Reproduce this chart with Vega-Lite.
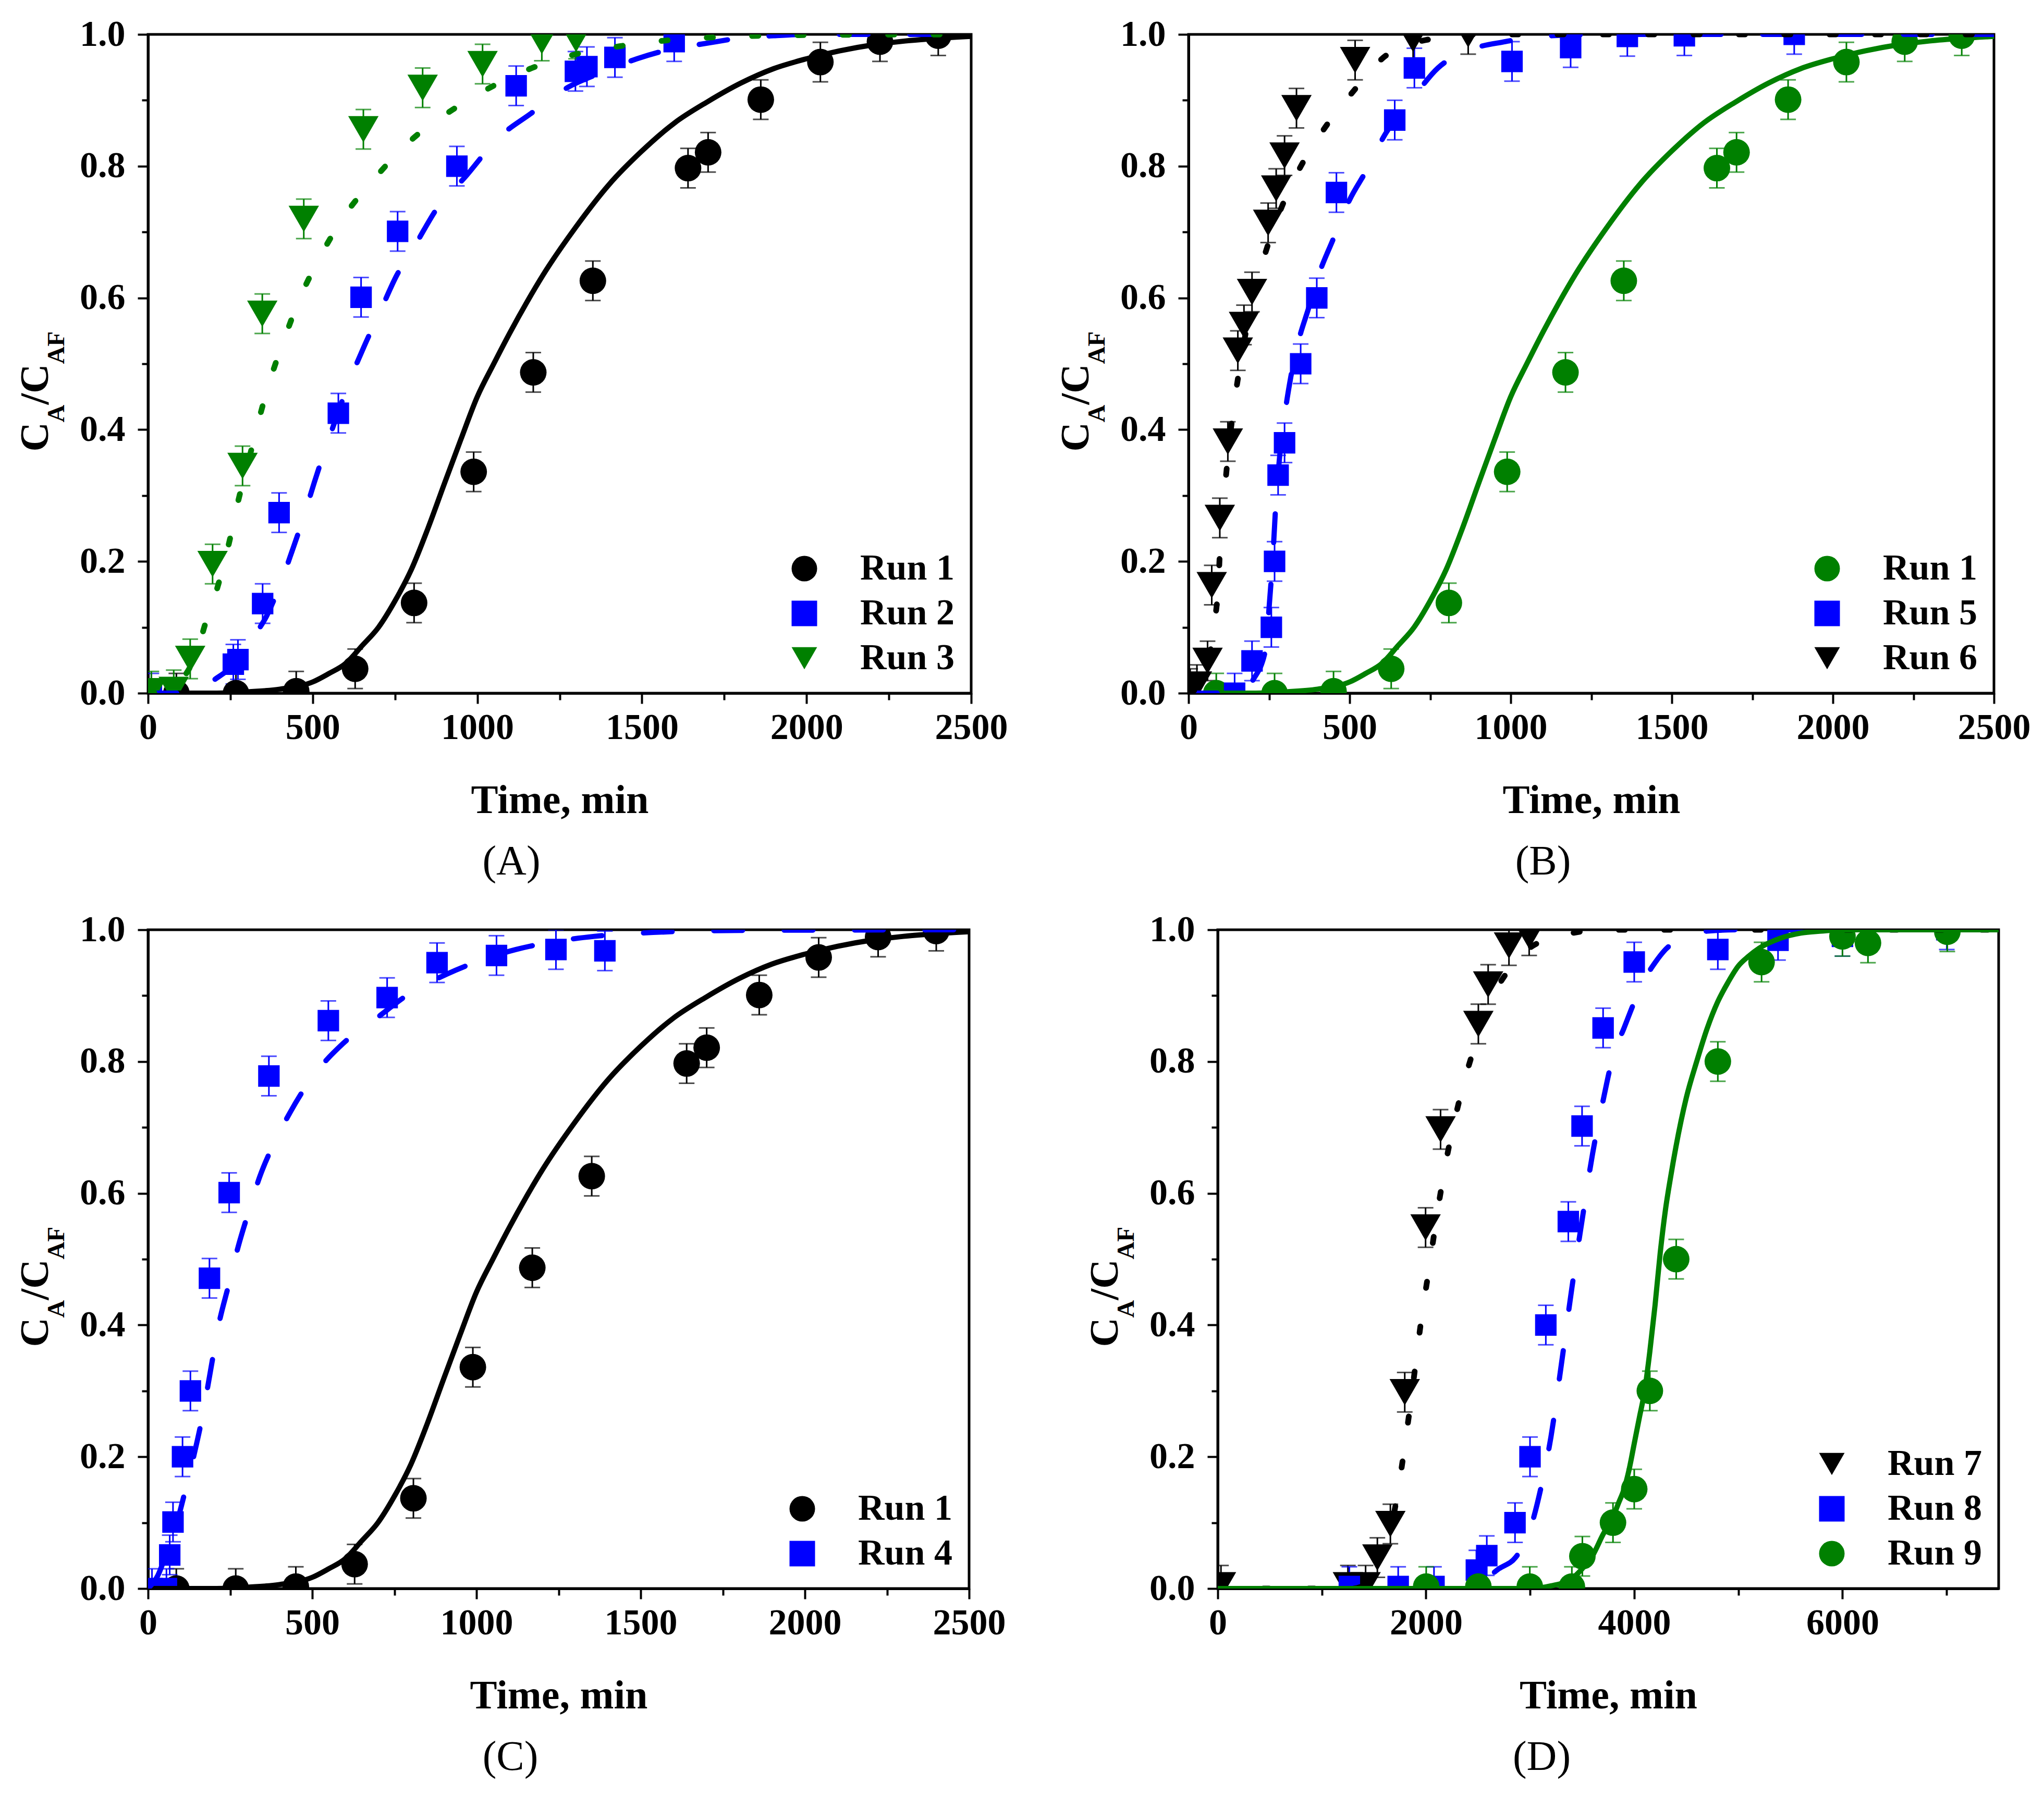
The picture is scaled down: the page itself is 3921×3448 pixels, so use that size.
{
  "$schema": "https://vega.github.io/schema/vega-lite/v6.json",
  "background": "white",
  "padding": {"left": 26, "top": 28, "right": 10, "bottom": 10},
  "config": {
    "font": "Liberation Serif",
    "view": {"stroke": "black", "strokeWidth": 5},
    "axis": {
      "grid": false,
      "labelFont": "Liberation Serif",
      "labelFontSize": 70,
      "labelFontWeight": "bold",
      "labelColor": "black",
      "labelOverlap": false,
      "labelFlush": false,
      "titleFont": "Liberation Serif",
      "titleFontWeight": "bold",
      "titleColor": "black",
      "titleFontSize": 78,
      "domainColor": "black",
      "domainWidth": 5,
      "tickColor": "black",
      "tickWidth": 4
    },
    "legend": {
      "labelFont": "Liberation Serif",
      "labelFontSize": 70,
      "labelFontWeight": "bold",
      "labelColor": "black",
      "labelLimit": 0,
      "symbolSize": 2400,
      "symbolStrokeWidth": 0,
      "labelOffset": 72,
      "rowPadding": 16,
      "padding": 0
    },
    "title": {"font": "Liberation Serif", "fontSize": 80, "fontWeight": "normal", "color": "black"}
  },
  "datasets": {
    "ptsA": [
      {"run": "Run 1", "t": 86, "y": 0.0, "e": 0.03},
      {"run": "Run 1", "t": 267, "y": 0.0, "e": 0.03},
      {"run": "Run 1", "t": 450, "y": 0.003, "e": 0.03},
      {"run": "Run 1", "t": 629, "y": 0.037, "e": 0.03},
      {"run": "Run 1", "t": 808, "y": 0.137, "e": 0.03},
      {"run": "Run 1", "t": 989, "y": 0.336, "e": 0.03},
      {"run": "Run 1", "t": 1170, "y": 0.487, "e": 0.03},
      {"run": "Run 1", "t": 1351, "y": 0.626, "e": 0.03},
      {"run": "Run 1", "t": 1640, "y": 0.797, "e": 0.03},
      {"run": "Run 1", "t": 1701, "y": 0.821, "e": 0.03},
      {"run": "Run 1", "t": 1861, "y": 0.901, "e": 0.03},
      {"run": "Run 1", "t": 2042, "y": 0.958, "e": 0.03},
      {"run": "Run 1", "t": 2223, "y": 0.989, "e": 0.03},
      {"run": "Run 1", "t": 2400, "y": 0.998, "e": 0.03},
      {"run": "Run 2", "t": 10, "y": 0.0, "e": 0.03},
      {"run": "Run 2", "t": 259, "y": 0.044, "e": 0.03},
      {"run": "Run 2", "t": 273, "y": 0.051, "e": 0.03},
      {"run": "Run 2", "t": 348, "y": 0.136, "e": 0.03},
      {"run": "Run 2", "t": 398, "y": 0.274, "e": 0.03},
      {"run": "Run 2", "t": 578, "y": 0.425, "e": 0.03},
      {"run": "Run 2", "t": 647, "y": 0.601, "e": 0.03},
      {"run": "Run 2", "t": 758, "y": 0.701, "e": 0.03},
      {"run": "Run 2", "t": 938, "y": 0.8, "e": 0.03},
      {"run": "Run 2", "t": 1118, "y": 0.922, "e": 0.03},
      {"run": "Run 2", "t": 1298, "y": 0.944, "e": 0.03},
      {"run": "Run 2", "t": 1333, "y": 0.951, "e": 0.03},
      {"run": "Run 2", "t": 1418, "y": 0.965, "e": 0.03},
      {"run": "Run 2", "t": 1598, "y": 0.989, "e": 0.03},
      {"run": "Run 3", "t": 10, "y": 0.003, "e": 0.03},
      {"run": "Run 3", "t": 78, "y": 0.005, "e": 0.03},
      {"run": "Run 3", "t": 128, "y": 0.052, "e": 0.03},
      {"run": "Run 3", "t": 196, "y": 0.196, "e": 0.03},
      {"run": "Run 3", "t": 287, "y": 0.345, "e": 0.03},
      {"run": "Run 3", "t": 347, "y": 0.576, "e": 0.03},
      {"run": "Run 3", "t": 473, "y": 0.72, "e": 0.03},
      {"run": "Run 3", "t": 654, "y": 0.856, "e": 0.03},
      {"run": "Run 3", "t": 834, "y": 0.919, "e": 0.03},
      {"run": "Run 3", "t": 1016, "y": 0.955, "e": 0.03},
      {"run": "Run 3", "t": 1196, "y": 0.99, "e": 0.03},
      {"run": "Run 3", "t": 1300, "y": 0.993, "e": 0.03}
    ],
    "ptsB": [
      {"run": "Run 1", "t": 86, "y": 0.0, "e": 0.03},
      {"run": "Run 1", "t": 267, "y": 0.0, "e": 0.03},
      {"run": "Run 1", "t": 450, "y": 0.003, "e": 0.03},
      {"run": "Run 1", "t": 629, "y": 0.037, "e": 0.03},
      {"run": "Run 1", "t": 808, "y": 0.137, "e": 0.03},
      {"run": "Run 1", "t": 989, "y": 0.336, "e": 0.03},
      {"run": "Run 1", "t": 1170, "y": 0.487, "e": 0.03},
      {"run": "Run 1", "t": 1351, "y": 0.626, "e": 0.03},
      {"run": "Run 1", "t": 1640, "y": 0.797, "e": 0.03},
      {"run": "Run 1", "t": 1701, "y": 0.821, "e": 0.03},
      {"run": "Run 1", "t": 1861, "y": 0.901, "e": 0.03},
      {"run": "Run 1", "t": 2042, "y": 0.958, "e": 0.03},
      {"run": "Run 1", "t": 2223, "y": 0.989, "e": 0.03},
      {"run": "Run 1", "t": 2400, "y": 0.998, "e": 0.03},
      {"run": "Run 5", "t": 5, "y": 0.0, "e": 0.03},
      {"run": "Run 5", "t": 143, "y": 0.0, "e": 0.03},
      {"run": "Run 5", "t": 197, "y": 0.049, "e": 0.03},
      {"run": "Run 5", "t": 257, "y": 0.1, "e": 0.03},
      {"run": "Run 5", "t": 267, "y": 0.2, "e": 0.03},
      {"run": "Run 5", "t": 278, "y": 0.331, "e": 0.03},
      {"run": "Run 5", "t": 298, "y": 0.38, "e": 0.03},
      {"run": "Run 5", "t": 348, "y": 0.5, "e": 0.03},
      {"run": "Run 5", "t": 398, "y": 0.6, "e": 0.03},
      {"run": "Run 5", "t": 459, "y": 0.76, "e": 0.03},
      {"run": "Run 5", "t": 640, "y": 0.87, "e": 0.03},
      {"run": "Run 5", "t": 701, "y": 0.949, "e": 0.03},
      {"run": "Run 5", "t": 1004, "y": 0.959, "e": 0.03},
      {"run": "Run 5", "t": 1186, "y": 0.98, "e": 0.03},
      {"run": "Run 5", "t": 1362, "y": 0.997, "e": 0.03},
      {"run": "Run 5", "t": 1539, "y": 0.998, "e": 0.03},
      {"run": "Run 5", "t": 1880, "y": 1.0, "e": 0.03},
      {"run": "Run 6", "t": 5, "y": 0.007, "e": 0.03},
      {"run": "Run 6", "t": 26, "y": 0.013, "e": 0.03},
      {"run": "Run 6", "t": 59, "y": 0.049, "e": 0.03},
      {"run": "Run 6", "t": 72, "y": 0.164, "e": 0.03},
      {"run": "Run 6", "t": 97, "y": 0.266, "e": 0.03},
      {"run": "Run 6", "t": 122, "y": 0.382, "e": 0.03},
      {"run": "Run 6", "t": 153, "y": 0.52, "e": 0.03},
      {"run": "Run 6", "t": 172, "y": 0.559, "e": 0.03},
      {"run": "Run 6", "t": 197, "y": 0.609, "e": 0.03},
      {"run": "Run 6", "t": 247, "y": 0.714, "e": 0.03},
      {"run": "Run 6", "t": 272, "y": 0.766, "e": 0.03},
      {"run": "Run 6", "t": 298, "y": 0.816, "e": 0.03},
      {"run": "Run 6", "t": 335, "y": 0.888, "e": 0.03},
      {"run": "Run 6", "t": 517, "y": 0.961, "e": 0.03},
      {"run": "Run 6", "t": 697, "y": 0.993, "e": 0.03},
      {"run": "Run 6", "t": 868, "y": 1.0, "e": 0.03}
    ],
    "ptsC": [
      {"run": "Run 1", "t": 86, "y": 0.0, "e": 0.03},
      {"run": "Run 1", "t": 267, "y": 0.0, "e": 0.03},
      {"run": "Run 1", "t": 450, "y": 0.003, "e": 0.03},
      {"run": "Run 1", "t": 629, "y": 0.037, "e": 0.03},
      {"run": "Run 1", "t": 808, "y": 0.137, "e": 0.03},
      {"run": "Run 1", "t": 989, "y": 0.336, "e": 0.03},
      {"run": "Run 1", "t": 1170, "y": 0.487, "e": 0.03},
      {"run": "Run 1", "t": 1351, "y": 0.626, "e": 0.03},
      {"run": "Run 1", "t": 1640, "y": 0.797, "e": 0.03},
      {"run": "Run 1", "t": 1701, "y": 0.821, "e": 0.03},
      {"run": "Run 1", "t": 1861, "y": 0.901, "e": 0.03},
      {"run": "Run 1", "t": 2042, "y": 0.958, "e": 0.03},
      {"run": "Run 1", "t": 2223, "y": 0.989, "e": 0.03},
      {"run": "Run 1", "t": 2400, "y": 0.998, "e": 0.03},
      {"run": "Run 4", "t": 12, "y": 0.0, "e": 0.03},
      {"run": "Run 4", "t": 56, "y": 0.0, "e": 0.03},
      {"run": "Run 4", "t": 66, "y": 0.051, "e": 0.03},
      {"run": "Run 4", "t": 76, "y": 0.101, "e": 0.03},
      {"run": "Run 4", "t": 105, "y": 0.2, "e": 0.03},
      {"run": "Run 4", "t": 129, "y": 0.3, "e": 0.03},
      {"run": "Run 4", "t": 187, "y": 0.471, "e": 0.03},
      {"run": "Run 4", "t": 247, "y": 0.601, "e": 0.03},
      {"run": "Run 4", "t": 368, "y": 0.778, "e": 0.03},
      {"run": "Run 4", "t": 549, "y": 0.862, "e": 0.03},
      {"run": "Run 4", "t": 728, "y": 0.897, "e": 0.03},
      {"run": "Run 4", "t": 880, "y": 0.95, "e": 0.03},
      {"run": "Run 4", "t": 1061, "y": 0.961, "e": 0.03},
      {"run": "Run 4", "t": 1242, "y": 0.97, "e": 0.03},
      {"run": "Run 4", "t": 1391, "y": 0.968, "e": 0.03}
    ],
    "ptsD": [
      {"run": "Run 7", "t": 31, "y": 0.005, "e": 0.03},
      {"run": "Run 7", "t": 1250, "y": 0.005, "e": 0.03},
      {"run": "Run 7", "t": 1420, "y": 0.005, "e": 0.03},
      {"run": "Run 7", "t": 1533, "y": 0.047, "e": 0.03},
      {"run": "Run 7", "t": 1658, "y": 0.098, "e": 0.03},
      {"run": "Run 7", "t": 1796, "y": 0.298, "e": 0.03},
      {"run": "Run 7", "t": 1996, "y": 0.548, "e": 0.03},
      {"run": "Run 7", "t": 2140, "y": 0.697, "e": 0.03},
      {"run": "Run 7", "t": 2503, "y": 0.857, "e": 0.03},
      {"run": "Run 7", "t": 2597, "y": 0.917, "e": 0.03},
      {"run": "Run 7", "t": 2797, "y": 0.976, "e": 0.03},
      {"run": "Run 7", "t": 2991, "y": 0.991, "e": 0.03},
      {"run": "Run 8", "t": 1264, "y": 0.003, "e": 0.03},
      {"run": "Run 8", "t": 1733, "y": 0.003, "e": 0.03},
      {"run": "Run 8", "t": 2077, "y": 0.003, "e": 0.03},
      {"run": "Run 8", "t": 2484, "y": 0.028, "e": 0.03},
      {"run": "Run 8", "t": 2584, "y": 0.05, "e": 0.03},
      {"run": "Run 8", "t": 2855, "y": 0.1, "e": 0.03},
      {"run": "Run 8", "t": 2999, "y": 0.2, "e": 0.03},
      {"run": "Run 8", "t": 3151, "y": 0.4, "e": 0.03},
      {"run": "Run 8", "t": 3367, "y": 0.557, "e": 0.03},
      {"run": "Run 8", "t": 3499, "y": 0.702, "e": 0.03},
      {"run": "Run 8", "t": 3701, "y": 0.851, "e": 0.03},
      {"run": "Run 8", "t": 4000, "y": 0.951, "e": 0.03},
      {"run": "Run 8", "t": 4803, "y": 0.97, "e": 0.03},
      {"run": "Run 8", "t": 5381, "y": 0.984, "e": 0.03},
      {"run": "Run 8", "t": 6000, "y": 0.99, "e": 0.03},
      {"run": "Run 8", "t": 7002, "y": 1.0, "e": 0.03},
      {"run": "Run 9", "t": 2002, "y": 0.003, "e": 0.03},
      {"run": "Run 9", "t": 2503, "y": 0.003, "e": 0.03},
      {"run": "Run 9", "t": 2997, "y": 0.003, "e": 0.03},
      {"run": "Run 9", "t": 3401, "y": 0.003, "e": 0.03},
      {"run": "Run 9", "t": 3502, "y": 0.049, "e": 0.03},
      {"run": "Run 9", "t": 3796, "y": 0.1, "e": 0.03},
      {"run": "Run 9", "t": 4000, "y": 0.151, "e": 0.03},
      {"run": "Run 9", "t": 4150, "y": 0.3, "e": 0.03},
      {"run": "Run 9", "t": 4403, "y": 0.5, "e": 0.03},
      {"run": "Run 9", "t": 4803, "y": 0.8, "e": 0.03},
      {"run": "Run 9", "t": 5223, "y": 0.951, "e": 0.03},
      {"run": "Run 9", "t": 6000, "y": 0.99, "e": 0.03},
      {"run": "Run 9", "t": 6245, "y": 0.98, "e": 0.03},
      {"run": "Run 9", "t": 7007, "y": 0.997, "e": 0.03}
    ],
    "c1": [
      {"t": 0, "y": 0}, {"t": 200, "y": 0}, {"t": 300, "y": 0.002}, {"t": 400, "y": 0.006},
      {"t": 500, "y": 0.017}, {"t": 550, "y": 0.03}, {"t": 600, "y": 0.045}, {"t": 650, "y": 0.072},
      {"t": 700, "y": 0.1}, {"t": 750, "y": 0.14}, {"t": 800, "y": 0.188}, {"t": 850, "y": 0.25},
      {"t": 900, "y": 0.318}, {"t": 950, "y": 0.385}, {"t": 1000, "y": 0.45}, {"t": 1050, "y": 0.5},
      {"t": 1100, "y": 0.548}, {"t": 1150, "y": 0.593}, {"t": 1200, "y": 0.635}, {"t": 1300, "y": 0.708},
      {"t": 1400, "y": 0.772}, {"t": 1500, "y": 0.823}, {"t": 1600, "y": 0.866}, {"t": 1700, "y": 0.898},
      {"t": 1800, "y": 0.926}, {"t": 1900, "y": 0.948}, {"t": 2000, "y": 0.963}, {"t": 2100, "y": 0.975},
      {"t": 2200, "y": 0.984}, {"t": 2300, "y": 0.99}, {"t": 2400, "y": 0.994}, {"t": 2500, "y": 0.997}
    ],
    "c2": [
      {"t": 0, "y": 0}, {"t": 100, "y": 0}, {"t": 150, "y": 0.005}, {"t": 200, "y": 0.02},
      {"t": 282, "y": 0.055}, {"t": 320, "y": 0.085}, {"t": 360, "y": 0.117}, {"t": 405, "y": 0.17},
      {"t": 437, "y": 0.215}, {"t": 473, "y": 0.268}, {"t": 505, "y": 0.32}, {"t": 538, "y": 0.37},
      {"t": 573, "y": 0.42}, {"t": 609, "y": 0.47}, {"t": 655, "y": 0.525}, {"t": 702, "y": 0.576},
      {"t": 755, "y": 0.634}, {"t": 811, "y": 0.68}, {"t": 882, "y": 0.739}, {"t": 964, "y": 0.784},
      {"t": 1064, "y": 0.843}, {"t": 1163, "y": 0.88}, {"t": 1273, "y": 0.919}, {"t": 1377, "y": 0.942},
      {"t": 1485, "y": 0.963}, {"t": 1575, "y": 0.976}, {"t": 1703, "y": 0.987}, {"t": 1792, "y": 0.994},
      {"t": 1900, "y": 0.998}, {"t": 2000, "y": 1.0}, {"t": 2500, "y": 1.0}
    ],
    "c3": [
      {"t": 0, "y": 0}, {"t": 50, "y": 0.003}, {"t": 90, "y": 0.015}, {"t": 127, "y": 0.039},
      {"t": 150, "y": 0.065}, {"t": 173, "y": 0.104}, {"t": 214, "y": 0.166}, {"t": 246, "y": 0.228},
      {"t": 273, "y": 0.29}, {"t": 305, "y": 0.352}, {"t": 335, "y": 0.412}, {"t": 370, "y": 0.474},
      {"t": 412, "y": 0.535}, {"t": 459, "y": 0.597}, {"t": 519, "y": 0.659}, {"t": 593, "y": 0.722},
      {"t": 689, "y": 0.782}, {"t": 807, "y": 0.843}, {"t": 932, "y": 0.888}, {"t": 1057, "y": 0.924},
      {"t": 1182, "y": 0.952}, {"t": 1300, "y": 0.97}, {"t": 1432, "y": 0.982}, {"t": 1600, "y": 0.992},
      {"t": 1800, "y": 0.997}, {"t": 2000, "y": 0.999}, {"t": 2500, "y": 1.0}
    ],
    "c4": [
      {"t": 0, "y": 0}, {"t": 30, "y": 0.02}, {"t": 60, "y": 0.06}, {"t": 86, "y": 0.097},
      {"t": 115, "y": 0.152}, {"t": 141, "y": 0.205}, {"t": 165, "y": 0.26}, {"t": 190, "y": 0.33},
      {"t": 215, "y": 0.4}, {"t": 245, "y": 0.46}, {"t": 275, "y": 0.52}, {"t": 305, "y": 0.57},
      {"t": 340, "y": 0.625}, {"t": 380, "y": 0.672}, {"t": 434, "y": 0.724}, {"t": 497, "y": 0.774},
      {"t": 593, "y": 0.827}, {"t": 696, "y": 0.866}, {"t": 802, "y": 0.905}, {"t": 911, "y": 0.933},
      {"t": 1021, "y": 0.955}, {"t": 1120, "y": 0.97}, {"t": 1250, "y": 0.983}, {"t": 1359, "y": 0.99},
      {"t": 1538, "y": 0.996}, {"t": 1800, "y": 0.999}, {"t": 2500, "y": 1.0}
    ],
    "c5": [
      {"t": 0, "y": 0}, {"t": 150, "y": 0}, {"t": 180, "y": 0.005}, {"t": 200, "y": 0.02},
      {"t": 239, "y": 0.066}, {"t": 250, "y": 0.13}, {"t": 264, "y": 0.227}, {"t": 270, "y": 0.28},
      {"t": 281, "y": 0.35}, {"t": 302, "y": 0.434}, {"t": 317, "y": 0.479}, {"t": 339, "y": 0.53},
      {"t": 373, "y": 0.585}, {"t": 404, "y": 0.635}, {"t": 448, "y": 0.688}, {"t": 498, "y": 0.747},
      {"t": 554, "y": 0.795}, {"t": 611, "y": 0.849}, {"t": 681, "y": 0.893}, {"t": 774, "y": 0.949},
      {"t": 876, "y": 0.977}, {"t": 983, "y": 0.989}, {"t": 1092, "y": 0.997}, {"t": 1300, "y": 1.0},
      {"t": 2500, "y": 1.0}
    ],
    "c6": [
      {"t": 0, "y": 0}, {"t": 30, "y": 0.01}, {"t": 50, "y": 0.03}, {"t": 70, "y": 0.07},
      {"t": 82, "y": 0.11}, {"t": 93, "y": 0.17}, {"t": 99, "y": 0.234}, {"t": 110, "y": 0.296},
      {"t": 122, "y": 0.359}, {"t": 136, "y": 0.419}, {"t": 154, "y": 0.48}, {"t": 176, "y": 0.543},
      {"t": 200, "y": 0.602}, {"t": 237, "y": 0.666}, {"t": 281, "y": 0.728}, {"t": 337, "y": 0.789},
      {"t": 413, "y": 0.851}, {"t": 507, "y": 0.911}, {"t": 613, "y": 0.968}, {"t": 700, "y": 0.987},
      {"t": 800, "y": 0.996}, {"t": 900, "y": 1.0}, {"t": 2500, "y": 1.0}
    ],
    "c7": [
      {"t": 0, "y": 0}, {"t": 1300, "y": 0}, {"t": 1400, "y": 0.005}, {"t": 1500, "y": 0.025},
      {"t": 1600, "y": 0.06}, {"t": 1700, "y": 0.12}, {"t": 1752, "y": 0.169}, {"t": 1808, "y": 0.23},
      {"t": 1908, "y": 0.35}, {"t": 1958, "y": 0.412}, {"t": 2015, "y": 0.471}, {"t": 2134, "y": 0.595},
      {"t": 2202, "y": 0.656}, {"t": 2284, "y": 0.717}, {"t": 2384, "y": 0.779}, {"t": 2515, "y": 0.845},
      {"t": 2653, "y": 0.902}, {"t": 2800, "y": 0.94}, {"t": 2922, "y": 0.963}, {"t": 3100, "y": 0.982},
      {"t": 3316, "y": 0.992}, {"t": 3700, "y": 1.0}, {"t": 7500, "y": 1.0}
    ],
    "c8": [
      {"t": 0, "y": 0}, {"t": 2400, "y": 0}, {"t": 2484, "y": 0.006}, {"t": 2600, "y": 0.018},
      {"t": 2700, "y": 0.03}, {"t": 2859, "y": 0.047}, {"t": 2950, "y": 0.07}, {"t": 3000, "y": 0.09},
      {"t": 3100, "y": 0.15}, {"t": 3200, "y": 0.23}, {"t": 3300, "y": 0.34}, {"t": 3400, "y": 0.455},
      {"t": 3500, "y": 0.56}, {"t": 3600, "y": 0.66}, {"t": 3700, "y": 0.74}, {"t": 3800, "y": 0.81},
      {"t": 3900, "y": 0.85}, {"t": 4000, "y": 0.89}, {"t": 4100, "y": 0.925}, {"t": 4200, "y": 0.95},
      {"t": 4300, "y": 0.97}, {"t": 4500, "y": 0.99}, {"t": 4700, "y": 0.998}, {"t": 5000, "y": 1.0},
      {"t": 7500, "y": 1.0}
    ],
    "c9": [
      {"t": 0, "y": 0}, {"t": 3000, "y": 0}, {"t": 3200, "y": 0.004}, {"t": 3400, "y": 0.015},
      {"t": 3500, "y": 0.03}, {"t": 3600, "y": 0.05}, {"t": 3700, "y": 0.082}, {"t": 3800, "y": 0.11},
      {"t": 3850, "y": 0.13}, {"t": 3900, "y": 0.15}, {"t": 3950, "y": 0.18}, {"t": 4000, "y": 0.22},
      {"t": 4050, "y": 0.26}, {"t": 4100, "y": 0.3}, {"t": 4150, "y": 0.36}, {"t": 4200, "y": 0.43},
      {"t": 4250, "y": 0.51}, {"t": 4300, "y": 0.575}, {"t": 4350, "y": 0.625}, {"t": 4400, "y": 0.67},
      {"t": 4450, "y": 0.71}, {"t": 4500, "y": 0.745}, {"t": 4600, "y": 0.8}, {"t": 4700, "y": 0.85},
      {"t": 4800, "y": 0.89}, {"t": 4900, "y": 0.92}, {"t": 5000, "y": 0.945}, {"t": 5100, "y": 0.96},
      {"t": 5200, "y": 0.972}, {"t": 5400, "y": 0.987}, {"t": 5600, "y": 0.995}, {"t": 5800, "y": 0.998},
      {"t": 6000, "y": 1.0}, {"t": 7500, "y": 1.0}
    ]
  },
  "resolve": {
    "scale": {"color": "independent", "shape": "independent", "x": "independent", "y": "independent"},
    "legend": {"color": "independent", "shape": "independent"}
  },
  "spacing": 49,
  "vconcat": [
    {
      "spacing": 86,
      "resolve": {
        "scale": {"color": "independent", "shape": "independent", "x": "independent", "y": "independent"},
        "legend": {"color": "independent", "shape": "independent"}
      },
      "hconcat": [
        {
          "width": 1579,
          "height": 1264,
          "title": {"text": "(A)", "orient": "bottom", "anchor": "middle", "frame": "bounds", "offset": 40},
          "encoding": {
            "x": {"field": "t", "type": "quantitative", "scale": {"domain": [0, 2500], "nice": false, "zero": false},
              "axis": {"values": [0, 250, 500, 750, 1000, 1250, 1500, 1750, 2000, 2250, 2500],
                "labelExpr": "datum.value % 500 == 0 ? '' + datum.value : ''",
                "tickSize": {"condition": {"test": "datum.value % 500 == 0", "value": 20}, "value": 13},
                "labelPadding": 12, "title": "Time, min", "titleY": 229, "titleBaseline": "alphabetic"}}
          },
          "resolve": {"axis": {"y": "independent"}},
          "layer": [
            {"data": {"name": "ptsA"}, "transform": [{"filter": "datum.run == 'Run 1'"}],
              "mark": {"type": "errorbar", "color": "#000000", "thickness": 3, "ticks": {"size": 30, "thickness": 3}, "clip": true},
              "encoding": {"y": {"field": "y", "type": "quantitative", "scale": {"domain": [0, 1], "nice": false},
                "axis": {"orient": "left", "labels": false, "ticks": false, "domain": false, "title": "A", "titleX": -162, "titleY": 744, "titleAngle": 270, "titleAlign": "left", "titleBaseline": "alphabetic", "titleFontSize": 47}},
                "yError": {"field": "e"}}},
            {"data": {"name": "ptsA"}, "transform": [{"filter": "datum.run == 'Run 2'"}],
              "mark": {"type": "errorbar", "color": "#0000ff", "thickness": 3, "ticks": {"size": 30, "thickness": 3}, "clip": true},
              "encoding": {"y": {"field": "y", "type": "quantitative", "scale": {"domain": [0, 1], "nice": false},
                "axis": {"orient": "left", "labels": false, "ticks": false, "domain": false, "title": "/C", "titleX": -193, "titleY": 710, "titleAngle": 270, "titleAlign": "left", "titleBaseline": "alphabetic", "titleFontSize": 78}},
                "yError": {"field": "e"}}},
            {"data": {"name": "ptsA"}, "transform": [{"filter": "datum.run == 'Run 3'"}],
              "mark": {"type": "errorbar", "color": "#008000", "thickness": 3, "ticks": {"size": 30, "thickness": 3}, "clip": true},
              "encoding": {"y": {"field": "y", "type": "quantitative", "scale": {"domain": [0, 1], "nice": false},
                "axis": {"orient": "left", "labels": false, "ticks": false, "domain": false, "title": "AF", "titleX": -162, "titleY": 632, "titleAngle": 270, "titleAlign": "left", "titleBaseline": "alphabetic", "titleFontSize": 47}},
                "yError": {"field": "e"}}},
            {"data": {"name": "ptsA"},
              "mark": {"type": "point", "filled": true, "opacity": 1, "strokeWidth": 0, "clip": true},
              "encoding": {
                "y": {"field": "y", "type": "quantitative", "scale": {"domain": [0, 1], "nice": false},
                  "axis": {"orient": "left", "values": [0, 0.1, 0.2, 0.3, 0.4, 0.5, 0.6, 0.7, 0.8, 0.9, 1],
                    "labelExpr": "round(datum.value * 10) % 2 == 0 ? format(datum.value, '.1f') : ''",
                    "tickSize": {"condition": {"test": "round(datum.value * 10) % 2 == 0", "value": 20}, "value": 12},
                    "labelPadding": 24, "title": "C", "titleX": -193, "titleY": 800, "titleAngle": 270, "titleAlign": "left", "titleBaseline": "alphabetic"}},
                "color": {"field": "run", "type": "nominal", "scale": {"domain": ["Run 1", "Run 2", "Run 3"], "range": ["#000000", "#0000ff", "#008000"]},
                  "legend": {"title": null, "orient": "bottom-right", "offset": 32}},
                "shape": {"field": "run", "type": "nominal", "scale": {"domain": ["Run 1", "Run 2", "Run 3"], "range": ["circle", "square", "triangle-down"]},
                  "legend": {"title": null, "orient": "bottom-right", "offset": 32}},
                "size": {"condition": [{"test": "datum.run == 'Run 1'", "value": 2600}, {"test": "datum.run == 'Run 2'", "value": 1700}], "value": 3400}
              }},
            {"data": {"name": "c1"}, "mark": {"type": "line", "color": "#000000", "strokeWidth": 10, "interpolate": "monotone", "clip": true},
              "encoding": {"y": {"field": "y", "type": "quantitative", "scale": {"domain": [0, 1], "nice": false}, "axis": null}}},
            {"data": {"name": "c2"}, "mark": {"type": "line", "color": "#0000ff", "strokeWidth": 10, "strokeDash": [55, 80], "strokeCap": "round", "interpolate": "monotone", "clip": true},
              "encoding": {"y": {"field": "y", "type": "quantitative", "scale": {"domain": [0, 1], "nice": false}, "axis": null}}},
            {"data": {"name": "c3"}, "mark": {"type": "line", "color": "#008000", "strokeWidth": 11, "strokeDash": [12, 75], "strokeCap": "round", "interpolate": "monotone", "clip": true},
              "encoding": {"y": {"field": "y", "type": "quantitative", "scale": {"domain": [0, 1], "nice": false}, "axis": null}}}
          ]
        },
        {
          "width": 1545,
          "height": 1264,
          "title": {"text": "(B)", "orient": "bottom", "anchor": "middle", "frame": "bounds", "offset": 40},
          "encoding": {
            "x": {"field": "t", "type": "quantitative", "scale": {"domain": [0, 2500], "nice": false, "zero": false},
              "axis": {"values": [0, 250, 500, 750, 1000, 1250, 1500, 1750, 2000, 2250, 2500],
                "labelExpr": "datum.value % 500 == 0 ? '' + datum.value : ''",
                "tickSize": {"condition": {"test": "datum.value % 500 == 0", "value": 20}, "value": 13},
                "labelPadding": 12, "title": "Time, min", "titleY": 229, "titleBaseline": "alphabetic"}}
          },
          "resolve": {"axis": {"y": "independent"}},
          "layer": [
            {"data": {"name": "ptsB"}, "transform": [{"filter": "datum.run == 'Run 1'"}],
              "mark": {"type": "errorbar", "color": "#008000", "thickness": 3, "ticks": {"size": 30, "thickness": 3}, "clip": true},
              "encoding": {"y": {"field": "y", "type": "quantitative", "scale": {"domain": [0, 1], "nice": false},
                "axis": {"orient": "left", "labels": false, "ticks": false, "domain": false, "title": "A", "titleX": -162, "titleY": 744, "titleAngle": 270, "titleAlign": "left", "titleBaseline": "alphabetic", "titleFontSize": 47}},
                "yError": {"field": "e"}}},
            {"data": {"name": "ptsB"}, "transform": [{"filter": "datum.run == 'Run 5'"}],
              "mark": {"type": "errorbar", "color": "#0000ff", "thickness": 3, "ticks": {"size": 30, "thickness": 3}, "clip": true},
              "encoding": {"y": {"field": "y", "type": "quantitative", "scale": {"domain": [0, 1], "nice": false},
                "axis": {"orient": "left", "labels": false, "ticks": false, "domain": false, "title": "/C", "titleX": -193, "titleY": 710, "titleAngle": 270, "titleAlign": "left", "titleBaseline": "alphabetic", "titleFontSize": 78}},
                "yError": {"field": "e"}}},
            {"data": {"name": "ptsB"}, "transform": [{"filter": "datum.run == 'Run 6'"}],
              "mark": {"type": "errorbar", "color": "#000000", "thickness": 3, "ticks": {"size": 30, "thickness": 3}, "clip": true},
              "encoding": {"y": {"field": "y", "type": "quantitative", "scale": {"domain": [0, 1], "nice": false},
                "axis": {"orient": "left", "labels": false, "ticks": false, "domain": false, "title": "AF", "titleX": -162, "titleY": 632, "titleAngle": 270, "titleAlign": "left", "titleBaseline": "alphabetic", "titleFontSize": 47}},
                "yError": {"field": "e"}}},
            {"data": {"name": "ptsB"},
              "mark": {"type": "point", "filled": true, "opacity": 1, "strokeWidth": 0, "clip": true},
              "encoding": {
                "y": {"field": "y", "type": "quantitative", "scale": {"domain": [0, 1], "nice": false},
                  "axis": {"orient": "left", "values": [0, 0.1, 0.2, 0.3, 0.4, 0.5, 0.6, 0.7, 0.8, 0.9, 1],
                    "labelExpr": "round(datum.value * 10) % 2 == 0 ? format(datum.value, '.1f') : ''",
                    "tickSize": {"condition": {"test": "round(datum.value * 10) % 2 == 0", "value": 20}, "value": 12},
                    "labelPadding": 24, "title": "C", "titleX": -193, "titleY": 800, "titleAngle": 270, "titleAlign": "left", "titleBaseline": "alphabetic"}},
                "color": {"field": "run", "type": "nominal", "scale": {"domain": ["Run 1", "Run 5", "Run 6"], "range": ["#008000", "#0000ff", "#000000"]},
                  "legend": {"title": null, "orient": "bottom-right", "offset": 32}},
                "shape": {"field": "run", "type": "nominal", "scale": {"domain": ["Run 1", "Run 5", "Run 6"], "range": ["circle", "square", "triangle-down"]},
                  "legend": {"title": null, "orient": "bottom-right", "offset": 32}},
                "size": {"condition": [{"test": "datum.run == 'Run 1'", "value": 2600}, {"test": "datum.run == 'Run 5'", "value": 1700}], "value": 3400}
              }},
            {"data": {"name": "c1"}, "mark": {"type": "line", "color": "#008000", "strokeWidth": 10, "interpolate": "monotone", "clip": true},
              "encoding": {"y": {"field": "y", "type": "quantitative", "scale": {"domain": [0, 1], "nice": false}, "axis": null}}},
            {"data": {"name": "c5"}, "mark": {"type": "line", "color": "#0000ff", "strokeWidth": 10, "strokeDash": [55, 80], "strokeCap": "round", "interpolate": "monotone", "clip": true},
              "encoding": {"y": {"field": "y", "type": "quantitative", "scale": {"domain": [0, 1], "nice": false}, "axis": null}}},
            {"data": {"name": "c6"}, "mark": {"type": "line", "color": "#000000", "strokeWidth": 11, "strokeDash": [12, 75], "strokeCap": "round", "interpolate": "monotone", "clip": true},
              "encoding": {"y": {"field": "y", "type": "quantitative", "scale": {"domain": [0, 1], "nice": false}, "axis": null}}}
          ]
        }
      ]
    },
    {
      "spacing": 146,
      "resolve": {
        "scale": {"color": "independent", "shape": "independent", "x": "independent", "y": "independent"},
        "legend": {"color": "independent", "shape": "independent"}
      },
      "hconcat": [
        {
          "width": 1575,
          "height": 1264,
          "title": {"text": "(C)", "orient": "bottom", "anchor": "middle", "frame": "bounds", "offset": 40},
          "encoding": {
            "x": {"field": "t", "type": "quantitative", "scale": {"domain": [0, 2500], "nice": false, "zero": false},
              "axis": {"values": [0, 250, 500, 750, 1000, 1250, 1500, 1750, 2000, 2250, 2500],
                "labelExpr": "datum.value % 500 == 0 ? '' + datum.value : ''",
                "tickSize": {"condition": {"test": "datum.value % 500 == 0", "value": 20}, "value": 13},
                "labelPadding": 12, "title": "Time, min", "titleY": 229, "titleBaseline": "alphabetic"}}
          },
          "resolve": {"axis": {"y": "independent"}},
          "layer": [
            {"data": {"name": "ptsC"}, "transform": [{"filter": "datum.run == 'Run 1'"}],
              "mark": {"type": "errorbar", "color": "#000000", "thickness": 3, "ticks": {"size": 30, "thickness": 3}, "clip": true},
              "encoding": {"y": {"field": "y", "type": "quantitative", "scale": {"domain": [0, 1], "nice": false},
                "axis": {"orient": "left", "labels": false, "ticks": false, "domain": false, "title": "A", "titleX": -162, "titleY": 744, "titleAngle": 270, "titleAlign": "left", "titleBaseline": "alphabetic", "titleFontSize": 47}},
                "yError": {"field": "e"}}},
            {"data": {"name": "ptsC"}, "transform": [{"filter": "datum.run == 'Run 4'"}],
              "mark": {"type": "errorbar", "color": "#0000ff", "thickness": 3, "ticks": {"size": 30, "thickness": 3}, "clip": true},
              "encoding": {"y": {"field": "y", "type": "quantitative", "scale": {"domain": [0, 1], "nice": false},
                "axis": {"orient": "left", "labels": false, "ticks": false, "domain": false, "title": "/C", "titleX": -193, "titleY": 710, "titleAngle": 270, "titleAlign": "left", "titleBaseline": "alphabetic", "titleFontSize": 78}},
                "yError": {"field": "e"}}},
            {"data": {"name": "ptsC"},
              "mark": {"type": "point", "filled": true, "opacity": 1, "strokeWidth": 0, "clip": true},
              "encoding": {
                "y": {"field": "y", "type": "quantitative", "scale": {"domain": [0, 1], "nice": false},
                  "axis": {"orient": "left", "values": [0, 0.1, 0.2, 0.3, 0.4, 0.5, 0.6, 0.7, 0.8, 0.9, 1],
                    "labelExpr": "round(datum.value * 10) % 2 == 0 ? format(datum.value, '.1f') : ''",
                    "tickSize": {"condition": {"test": "round(datum.value * 10) % 2 == 0", "value": 20}, "value": 12},
                    "labelPadding": 24, "title": "C", "titleX": -193, "titleY": 800, "titleAngle": 270, "titleAlign": "left", "titleBaseline": "alphabetic"}},
                "color": {"field": "run", "type": "nominal", "scale": {"domain": ["Run 1", "Run 4"], "range": ["#000000", "#0000ff"]},
                  "legend": {"title": null, "orient": "bottom-right", "offset": 32}},
                "shape": {"field": "run", "type": "nominal", "scale": {"domain": ["Run 1", "Run 4"], "range": ["circle", "square"]},
                  "legend": {"title": null, "orient": "bottom-right", "offset": 32}},
                "size": {"condition": [{"test": "datum.run == 'Run 1'", "value": 2600}], "value": 1700}
              }},
            {"data": {"name": "c1"}, "mark": {"type": "line", "color": "#000000", "strokeWidth": 10, "interpolate": "monotone", "clip": true},
              "encoding": {"y": {"field": "y", "type": "quantitative", "scale": {"domain": [0, 1], "nice": false},
                "axis": {"orient": "left", "labels": false, "ticks": false, "domain": false, "title": "AF", "titleX": -162, "titleY": 632, "titleAngle": 270, "titleAlign": "left", "titleBaseline": "alphabetic", "titleFontSize": 47}}}},
            {"data": {"name": "c4"}, "mark": {"type": "line", "color": "#0000ff", "strokeWidth": 10, "strokeDash": [55, 80], "strokeCap": "round", "interpolate": "monotone", "clip": true},
              "encoding": {"y": {"field": "y", "type": "quantitative", "scale": {"domain": [0, 1], "nice": false}, "axis": null}}}
          ]
        },
        {
          "width": 1498,
          "height": 1264,
          "title": {"text": "(D)", "orient": "bottom", "anchor": "middle", "frame": "bounds", "offset": 40},
          "encoding": {
            "x": {"field": "t", "type": "quantitative", "scale": {"domain": [0, 7500], "nice": false, "zero": false},
              "axis": {"values": [0, 1000, 2000, 3000, 4000, 5000, 6000, 7000],
                "labelExpr": "datum.value % 2000 == 0 ? '' + datum.value : ''",
                "tickSize": {"condition": {"test": "datum.value % 2000 == 0", "value": 20}, "value": 13},
                "labelPadding": 12, "title": "Time, min", "titleY": 229, "titleBaseline": "alphabetic"}}
          },
          "resolve": {"axis": {"y": "independent"}},
          "layer": [
            {"data": {"name": "ptsD"}, "transform": [{"filter": "datum.run == 'Run 7'"}],
              "mark": {"type": "errorbar", "color": "#000000", "thickness": 3, "ticks": {"size": 30, "thickness": 3}, "clip": true},
              "encoding": {"y": {"field": "y", "type": "quantitative", "scale": {"domain": [0, 1], "nice": false},
                "axis": {"orient": "left", "labels": false, "ticks": false, "domain": false, "title": "A", "titleX": -162, "titleY": 744, "titleAngle": 270, "titleAlign": "left", "titleBaseline": "alphabetic", "titleFontSize": 47}},
                "yError": {"field": "e"}}},
            {"data": {"name": "ptsD"}, "transform": [{"filter": "datum.run == 'Run 8'"}],
              "mark": {"type": "errorbar", "color": "#0000ff", "thickness": 3, "ticks": {"size": 30, "thickness": 3}, "clip": true},
              "encoding": {"y": {"field": "y", "type": "quantitative", "scale": {"domain": [0, 1], "nice": false},
                "axis": {"orient": "left", "labels": false, "ticks": false, "domain": false, "title": "/C", "titleX": -193, "titleY": 710, "titleAngle": 270, "titleAlign": "left", "titleBaseline": "alphabetic", "titleFontSize": 78}},
                "yError": {"field": "e"}}},
            {"data": {"name": "ptsD"}, "transform": [{"filter": "datum.run == 'Run 9'"}],
              "mark": {"type": "errorbar", "color": "#008000", "thickness": 3, "ticks": {"size": 30, "thickness": 3}, "clip": true},
              "encoding": {"y": {"field": "y", "type": "quantitative", "scale": {"domain": [0, 1], "nice": false},
                "axis": {"orient": "left", "labels": false, "ticks": false, "domain": false, "title": "AF", "titleX": -162, "titleY": 632, "titleAngle": 270, "titleAlign": "left", "titleBaseline": "alphabetic", "titleFontSize": 47}},
                "yError": {"field": "e"}}},
            {"data": {"name": "ptsD"},
              "mark": {"type": "point", "filled": true, "opacity": 1, "strokeWidth": 0, "clip": true},
              "encoding": {
                "y": {"field": "y", "type": "quantitative", "scale": {"domain": [0, 1], "nice": false},
                  "axis": {"orient": "left", "values": [0, 0.1, 0.2, 0.3, 0.4, 0.5, 0.6, 0.7, 0.8, 0.9, 1],
                    "labelExpr": "round(datum.value * 10) % 2 == 0 ? format(datum.value, '.1f') : ''",
                    "tickSize": {"condition": {"test": "round(datum.value * 10) % 2 == 0", "value": 20}, "value": 12},
                    "labelPadding": 24, "title": "C", "titleX": -193, "titleY": 800, "titleAngle": 270, "titleAlign": "left", "titleBaseline": "alphabetic"}},
                "color": {"field": "run", "type": "nominal", "scale": {"domain": ["Run 7", "Run 8", "Run 9"], "range": ["#000000", "#0000ff", "#008000"]},
                  "legend": {"title": null, "orient": "bottom-right", "offset": 32}},
                "shape": {"field": "run", "type": "nominal", "scale": {"domain": ["Run 7", "Run 8", "Run 9"], "range": ["triangle-down", "square", "circle"]},
                  "legend": {"title": null, "orient": "bottom-right", "offset": 32}},
                "size": {"condition": [{"test": "datum.run == 'Run 9'", "value": 2600}, {"test": "datum.run == 'Run 8'", "value": 1700}], "value": 3400}
              }},
            {"data": {"name": "c7"}, "mark": {"type": "line", "color": "#000000", "strokeWidth": 11, "strokeDash": [12, 75], "strokeCap": "round", "interpolate": "monotone", "clip": true},
              "encoding": {"y": {"field": "y", "type": "quantitative", "scale": {"domain": [0, 1], "nice": false}, "axis": null}}},
            {"data": {"name": "c8"}, "mark": {"type": "line", "color": "#0000ff", "strokeWidth": 10, "strokeDash": [55, 80], "strokeCap": "round", "interpolate": "monotone", "clip": true},
              "encoding": {"y": {"field": "y", "type": "quantitative", "scale": {"domain": [0, 1], "nice": false}, "axis": null}}},
            {"data": {"name": "c9"}, "mark": {"type": "line", "color": "#008000", "strokeWidth": 10, "interpolate": "monotone", "clip": true},
              "encoding": {"y": {"field": "y", "type": "quantitative", "scale": {"domain": [0, 1], "nice": false}, "axis": null}}}
          ]
        }
      ]
    }
  ]
}
